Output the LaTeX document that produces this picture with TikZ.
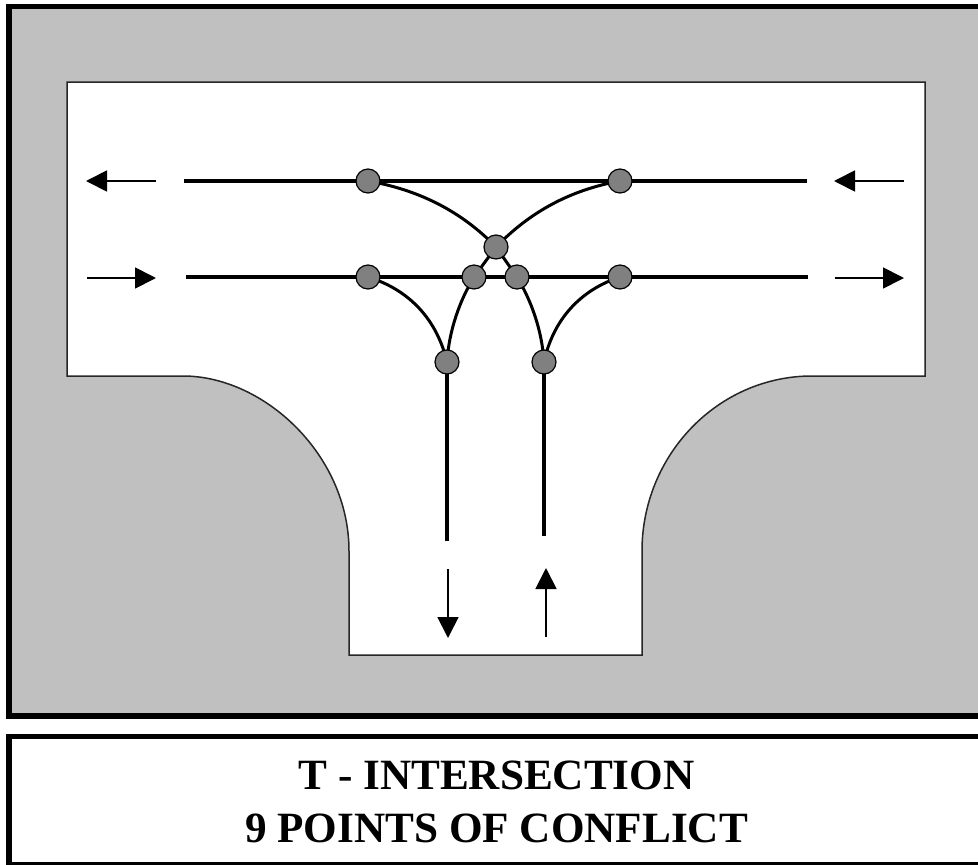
\documentclass[tikz,border=0pt]{standalone}
\usepackage{fontspec}
\setmainfont{Liberation Serif}
\usetikzlibrary{arrows.meta}
\definecolor{road}{RGB}{192,192,192}
\definecolor{spot}{RGB}{128,128,128}
\tikzset{
  x=1pt,y=-1pt,
  frameline/.style={draw=black,line width=5.6pt},
  edgeline/.style={draw=black!85,line width=1.5pt},
  lane/.style={draw=black,line width=4pt},
  curveline/.style={draw=black,line width=3pt},
  conflict/.style={circle,draw=black,line width=1.2pt,fill=spot,minimum size=24pt,inner sep=0pt},
  flow/.style={draw=black,line width=1.8pt,-{Triangle[length=21pt,width=21pt]}},
  caption/.style={font=\bfseries\fontsize{43.2}{53}\selectfont,align=center,inner sep=0pt}
}
\begin{document}
\begin{tikzpicture}
\useasboundingbox (0,0) rectangle (978,865);
\fill[white] (0,0) rectangle (978,865);
% panel
\path[fill=road,frameline] (9.2,6.3) rectangle (985,716);
% road
\path[fill=white,edgeline] (67,82) -- (925,82) -- (925,376) -- (812,376)
  .. controls (718,376) and (642,455) .. (642,551) -- (642,655) -- (349,655) -- (349,551)
  .. controls (349,455) and (264,376) .. (183,376) -- (67,376) -- cycle;
% conflict points
\coordinate (ltop) at (184,181);
\coordinate (rtop) at (807,181);
\coordinate (lmid) at (186,277);
\coordinate (rmid) at (808,277);
\coordinate (dn) at (447,541);
\coordinate (up) at (544,536);
\coordinate (a) at (368,181);
\coordinate (b) at (620,181);
\coordinate (c) at (496,247);
\coordinate (d) at (368,277);
\coordinate (e) at (474,277);
\coordinate (f) at (517,277);
\coordinate (g) at (620,277);
\coordinate (h) at (447,362);
\coordinate (i) at (544,362);
% lanes
\draw[lane] (ltop) -- (rtop);
\draw[lane] (lmid) -- (rmid);
\draw[lane] (h) -- (dn);
\draw[lane] (i) -- (up);
% curves
\draw[curveline] (a) .. controls (420,190) and (462,212) .. (c);
\draw[curveline] (b) .. controls (570,190) and (530,212) .. (c);
\draw[curveline] (c) -- (e);
\draw[curveline] (c) -- (f);
\draw[curveline] (e) .. controls (460,300) and (449,330) .. (h);
\draw[curveline] (f) .. controls (531,300) and (542,330) .. (i);
\draw[curveline] (d) .. controls (410,290) and (437,320) .. (h);
\draw[curveline] (g) .. controls (580,290) and (553,320) .. (i);
% dots
\foreach \n in {a,b,c,d,e,f,g,h,i}
  \node[conflict] (dot\n) at (\n) {};
% flow arrows
\coordinate (f1s) at (156,181); \coordinate (f1e) at (86,181);
\coordinate (f2s) at (87,278); \coordinate (f2e) at (156,278);
\coordinate (f3s) at (904,181); \coordinate (f3e) at (834,181);
\coordinate (f4s) at (835,278); \coordinate (f4e) at (904,278);
\coordinate (f5s) at (448,569); \coordinate (f5e) at (448,638);
\coordinate (f6s) at (546,637); \coordinate (f6e) at (546,568);
\foreach \s/\e in {f1s/f1e,f2s/f2e,f3s/f3e,f4s/f4e,f5s/f5e,f6s/f6e}
  \draw[flow] (\s) -- (\e);
% caption box
\path[fill=white,frameline] (9.2,736.3) rectangle (985,865);
\node[caption] (title) at (496.5,802) {T - INTERSECTION\\9 POINTS OF CONFLICT};
\end{tikzpicture}
\end{document}
